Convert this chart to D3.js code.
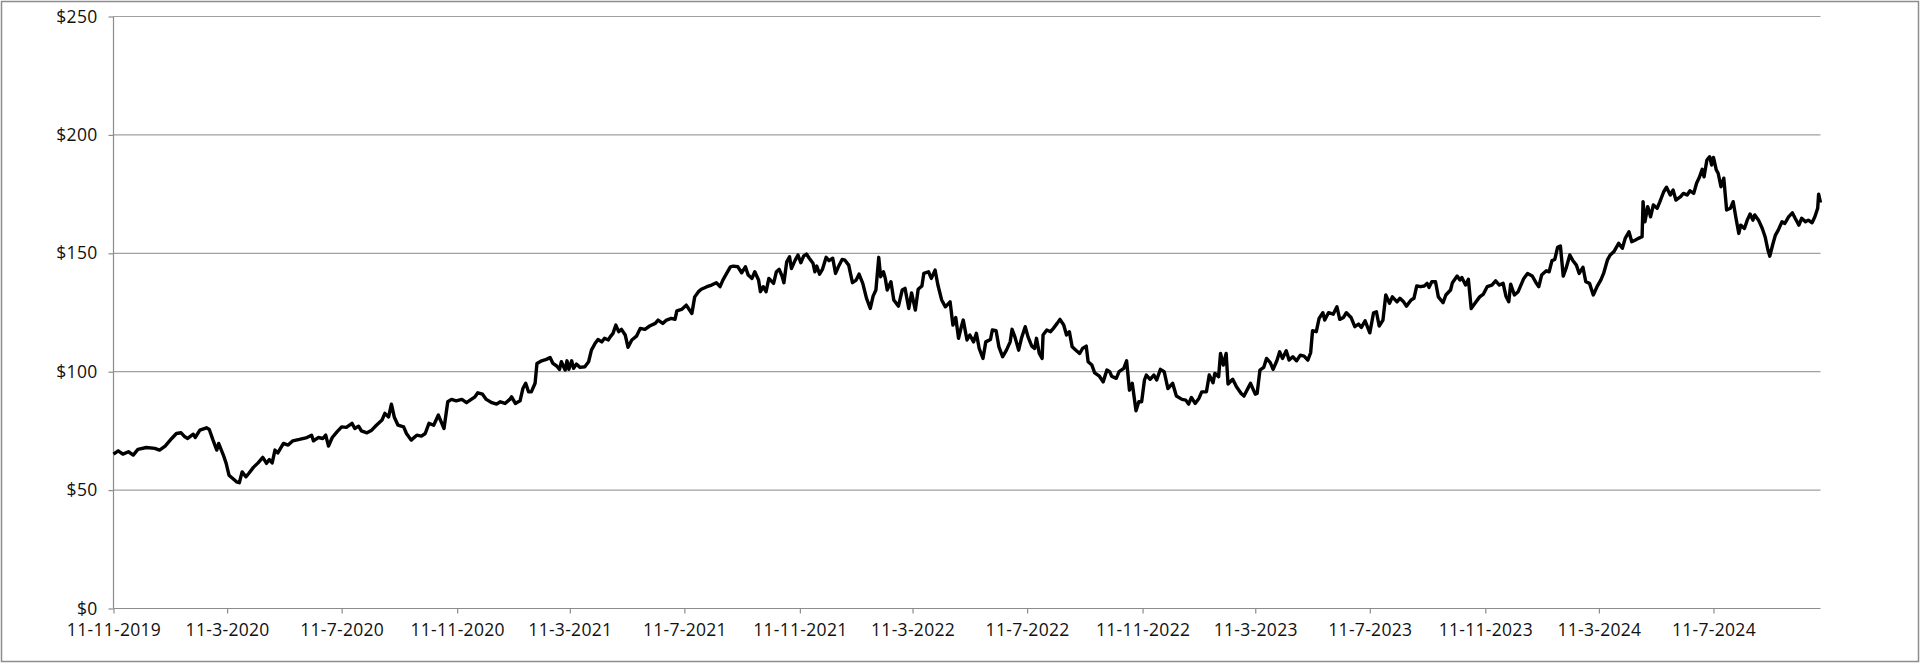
<!DOCTYPE html>
<html>
<head>
<meta charset="utf-8">
<script src="https://cdn.jsdelivr.net/npm/d3@7"></script>
<style>
  body { margin: 0; background: #fff; }
  text { font-family: "Open Sans", sans-serif; }
</style>
</head>
<body>
<div id="chart"></div>
<script>
// price series: days after startDate and closing price
const startDate = "2019-11-11";

const dayOffsets = [
  0,5,10,16,21,26,35,44,49,55, 62,67,72,76,79,85,87,92,99,102,
  106,110,112,117,120,123,127,131,134,137, 141,144,149,154,159,163,166,169,172,175,
  181,186,191,198,206,211,213,218,223,226, 229,233,238,243,248,254,257,261,264,270,
  275,280,286,289,293,296,299,303,309,312, 317,323,328,332,336,341,346,349,352,356,
  360,365,371,376,381,385,388,393,397,403, 408,412,417,422,424,428,433,436,439,442,
  445,449,451,456,461,465,468,472,475,477, 481,483,485,488,490,493,497,502,506,509,
  513,516,520,523,527,529,532,535,538,541, 545,548,552,557,561,566,571,577,580,585,
  589,594,598,600,605,610,616,619,623,626, 632,637,642,646,649,653,657,660,665,669,
  673,676,680,683,687,689,692,695,698,703, 706,709,712,714,717,720,722,726,729,732,
  735,738,741,745,747,749,752,755,759,762, 766,769,772,776,779,783,787,791,794,798,
  802,806,809,812,815,817,820,822,824,828, 831,836,840,843,847,850,854,857,861,863,
  868,871,875,878,882,886,891,894,897,900, 903,905,909,912,916,919,922,926,929,934,
  936,940,943,947,951,955,957,960,964,967, 971,974,978,981,983,986,989,990,994,998,
  1001,1005,1008,1012,1015,1018,1021,1025,1029,1032, 1036,1038,1042,1045,1050,1054,1058,1061,1063,1068,
  1071,1076,1079,1082,1085,1089,1092,1095,1098,1100, 1104,1108,1111,1115,1119,1123,1128,1132,1138,1142,
  1145,1148,1152,1156,1159,1164,1167,1171,1173,1177, 1179,1182,1185,1187,1192,1196,1201,1204,1209,1211,
  1216,1218,1221,1225,1228,1232,1235,1239,1242,1245, 1249,1252,1256,1260,1264,1268,1272,1275,1277,1281,
  1284,1288,1290,1294,1299,1303,1306,1310,1313,1318, 1322,1326,1329,1333,1338,1342,1345,1348,1352,1355,
  1359,1362,1367,1370,1374,1377,1382,1385,1388,1392, 1396,1399,1401,1404,1408,1411,1416,1419,1424,1426,
  1431,1434,1436,1440,1443,1446,1450,1455,1459,1463, 1468,1472,1476,1480,1483,1486,1488,1492,1496,1502,
  1506,1511,1515,1518,1521,1526,1529,1532,1535,1538, 1541,1544,1547,1551,1554,1558,1561,1565,1568,1572,
  1576,1580,1584,1587,1591,1594,1598,1603,1607,1610, 1614,1617,1621,1624,1628,1629,1631,1634,1637,1640,
  1644,1647,1651,1654,1658,1661,1664,1669,1672,1676, 1679,1683,1686,1689,1692,1694,1697,1700,1702,1704,
  1707,1709,1712,1715,1718,1722,1725,1728,1731,1733, 1737,1740,1743,1746,1748,1752,1756,1759,1762,1764,
  1767,1770,1773,1777,1780,1784,1788,1791,1795,1798, 1802,1805,1809,1812,1815,1816,1818
];

const prices = [
  65.2,66.6,65.2,66.2,64.8,67.2,68.0,67.6,66.9,68.6, 71.8,73.9,74.2,72.5,71.8,73.6,72.2,75.3,76.3,75.6,
  71.1,66.9,69.7,64.8,61.3,56.3,54.9,53.5,53.1,57.7, 55.6,57.0,59.6,61.5,63.8,61.3,62.9,61.5,66.9,65.7,
  69.7,69.0,70.8,71.4,72.2,73.2,70.8,72.2,71.8,73.2, 68.6,72.2,74.6,76.7,76.5,78.2,76.0,77.0,75.0,74.2,
  75.3,77.4,79.6,82.4,80.9,86.3,80.9,77.4,76.7,73.9, 71.1,73.2,72.8,73.9,78.2,77.4,81.7,78.8,76.0,87.3,
  88.3,87.7,88.3,86.9,88.3,89.4,91.1,90.5,88.3,86.9, 86.3,87.3,86.6,88.3,89.4,86.6,87.7,92.9,95.1,91.5,
  91.5,95.1,103.5,104.6,105.2,106.0,103.5,102.4,101.0,104.2, 100.7,104.6,101.0,104.6,101.4,103.2,101.8,102.1,104.2,109.1,
  112.0,113.6,112.6,114.1,113.4,114.7,116.2,119.7,116.9,117.9, 115.5,110.3,113.4,115.0,118.3,117.9,119.3,120.4,121.8,120.4,
  121.8,122.5,122.1,125.7,126.3,128.1,124.6,131.6,133.8,134.8, 135.9,136.6,137.6,135.9,138.7,141.5,144.3,144.6,144.3,141.8,
  144.3,140.8,139.4,142.2,138.7,133.8,135.9,133.8,139.4,137.3, 142.2,143.2,140.4,137.6,146.4,148.5,143.6,147.1,149.3,146.0,
  148.8,149.7,147.9,145.8,142.2,144.6,141.2,143.2,148.3,146.9, 147.9,141.5,144.3,147.4,147.1,145.0,137.6,138.7,141.2,137.3,
  131.0,126.7,131.9,134.5,148.3,140.1,142.2,139.4,134.5,138.0, 130.3,127.7,134.5,135.2,126.7,133.3,126.0,134.8,136.2,141.5,
  142.2,139.4,142.9,136.6,130.3,127.4,129.5,119.7,122.9,114.1, 119.0,121.8,113.4,115.5,112.6,116.2,109.8,105.6,112.6,113.6,
  117.6,117.3,110.5,106.3,109.1,112.6,117.9,114.7,109.1,114.1, 119.0,114.7,110.8,109.8,114.1,107.7,105.6,115.5,117.6,116.9,
  118.3,120.4,122.1,119.7,115.5,116.9,110.5,109.1,107.7,109.8, 110.8,104.2,102.8,99.5,98.1,95.7,100.7,100.0,98.1,97.2,
  100.0,101.4,104.6,92.2,95.1,83.5,87.3,87.3,96.5,98.6, 96.8,98.6,96.5,101.0,100.0,92.9,95.1,89.7,88.3,88.0,
  86.3,89.1,86.6,88.7,91.5,91.5,98.6,95.3,99.3,97.9, 107.7,102.8,107.7,94.8,96.8,93.6,90.8,89.7,93.6,95.1,
  90.5,90.8,100.7,101.8,105.6,103.8,101.0,104.6,108.4,105.6, 108.8,104.9,106.3,104.6,107.0,106.6,104.9,108.0,117.3,116.9,
  122.5,124.9,121.8,124.9,124.3,127.4,122.1,122.9,124.9,122.9, 119.0,120.1,118.7,121.5,116.4,124.9,125.3,119.3,121.8,132.4,
  128.9,131.6,129.5,131.0,129.5,127.7,130.3,131.0,136.2,135.9, 136.2,137.3,135.6,138.0,138.0,131.6,129.1,132.4,134.5,137.6,
  140.4,138.7,139.8,136.6,139.0,126.7,128.9,131.6,132.8,135.9, 136.6,138.4,136.6,137.3,131.9,129.5,137.0,132.4,133.8,139.4,
  141.5,140.4,137.6,135.9,140.8,142.6,142.2,146.9,147.4,152.5, 153.1,140.4,143.6,149.3,147.1,145.0,141.5,144.1,138.0,137.3,
  132.4,135.9,138.7,141.5,147.1,149.3,150.7,154.2,152.1,156.3, 159.1,154.9,155.6,156.3,157.0,171.8,163.3,169.7,165.4,170.4,
  169.0,171.8,176.0,177.9,174.6,176.7,172.5,173.9,175.3,174.6, 176.4,175.3,179.6,182.1,185.5,182.3,189.4,190.8,187.3,190.5,
  185.2,183.8,178.1,181.7,168.3,169.0,171.8,164.8,158.4,161.9, 160.5,164.0,166.6,164.0,166.2,164.0,160.5,157.0,151.4,148.8,
  153.5,157.7,159.8,163.3,162.6,165.4,167.1,164.8,161.9,164.8, 163.3,164.0,162.9,165.4,169.0,175.0,171.4
];

const xTickLabels = ["11-11-2019", "11-3-2020", "11-7-2020", "11-11-2020", "11-3-2021", "11-7-2021",
  "11-11-2021", "11-3-2022", "11-7-2022", "11-11-2022", "11-3-2023", "11-7-2023",
  "11-11-2023", "11-3-2024", "11-7-2024"];
const yTicks = [0, 50, 100, 150, 200, 250];

const width = 1920, height = 663;
const margin = {top: 16.5, right: 99.5, bottom: 54.5, left: 113.5};
const innerW = width - margin.left - margin.right;
const innerH = height - margin.top - margin.bottom;

const parseIso = d3.utcParse("%Y-%m-%d");
const parseTick = d3.utcParse("%d-%m-%Y");
const start = parseIso(startDate);

const data = d3.zip(dayOffsets, prices).map(function(d) {
  return {date: d3.utcDay.offset(start, d[0]), price: d[1]};
});

let svg = d3.select("#chart")
  .append("svg")
  .attr("width", width)
  .attr("height", height);

// outer frame
svg.append("rect")
  .attr("x", 1.5).attr("y", 1.5)
  .attr("width", width - 3).attr("height", height - 3)
  .attr("fill", "none")
  .attr("stroke", "#8c8c8c")
  .attr("stroke-width", 1.5);

let g = svg.append("g")
  .attr("transform", `translate(${margin.left}, ${margin.top})`);

let x = d3.scaleUtc()
  .domain([start, data[data.length - 1].date])
  .range([0, innerW]);

let y = d3.scaleLinear()
  .domain([0, 250])
  .range([innerH, 0]);

// horizontal gridlines
g.append("g")
  .selectAll("line")
  .data(yTicks.filter(d => d > 0))
  .enter()
  .append("line")
  .attr("x1", 0)
  .attr("x2", innerW)
  .attr("y1", d => y(d))
  .attr("y2", d => y(d))
  .attr("stroke", "#a0a0a0")
  .attr("stroke-width", 1.2);

// y axis
let yAxis = g.append("g")
  .call(d3.axisLeft(y).tickValues(yTicks).tickSize(5).tickPadding(11)
    .tickFormat(d => "$" + d));

// x axis
let xAxis = g.append("g")
  .attr("transform", `translate(0, ${innerH})`)
  .call(d3.axisBottom(x)
    .tickValues(xTickLabels.map(parseTick))
    .tickSize(5).tickPadding(10)
    .tickFormat((d, i) => xTickLabels[i]));

[yAxis, xAxis].forEach(function(a) {
  a.select(".domain").attr("stroke", "#8c8c8c").attr("stroke-width", 1.2);
  a.selectAll(".tick line").attr("stroke", "#8c8c8c").attr("stroke-width", 1.2);
  a.selectAll(".tick text")
    .style("font-family", "'Open Sans', sans-serif")
    .style("font-size", "17.5px")
    .style("letter-spacing", "0.3px")
    .attr("fill", "#111");
});
// no outer ticks on the axes
yAxis.select(".domain").attr("d", `M0,${innerH}V0`);
xAxis.select(".domain").attr("d", `M0,0H${innerW}`);

// price line
let line = d3.line()
  .x(d => x(d.date))
  .y(d => y(d.price));

g.append("path")
  .datum(data)
  .attr("fill", "none")
  .attr("stroke", "#000")
  .attr("stroke-width", 3.4)
  .attr("stroke-linejoin", "round")
  .attr("d", line);
</script>
</body>
</html>
